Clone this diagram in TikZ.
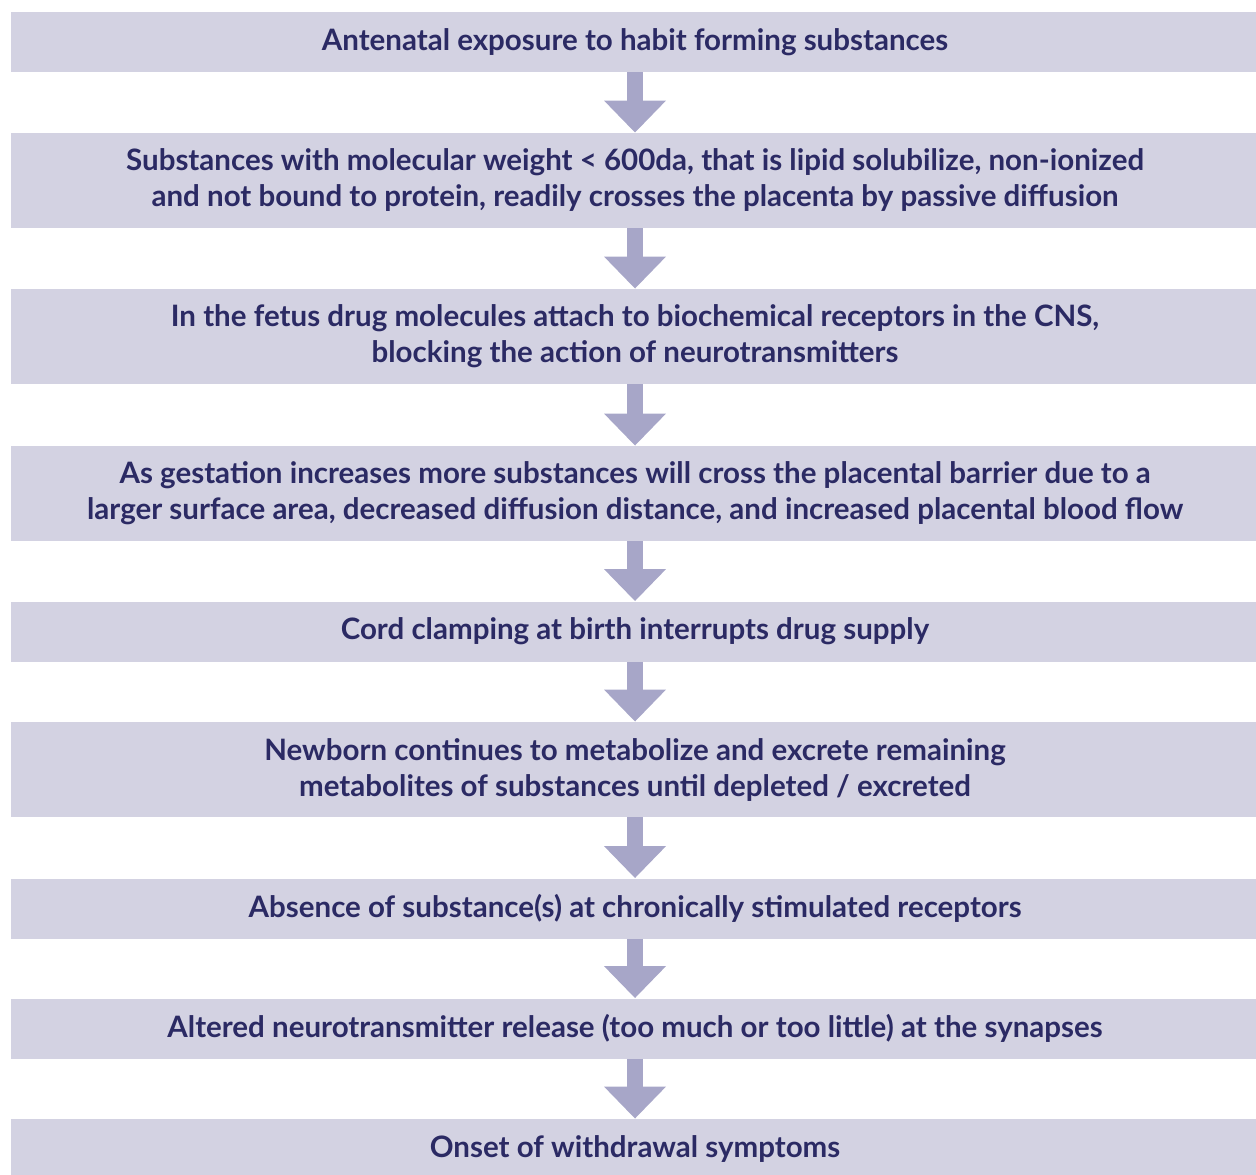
\documentclass[tikz,border=0pt]{standalone}
\usepackage{fontspec}
\setmainfont{Lato}
\usetikzlibrary{arrows.meta}
\definecolor{boxfill}{HTML}{D3D2E2}
\definecolor{arrowfill}{HTML}{A7A6C8}
\definecolor{textnavy}{HTML}{2B2A64}
\begin{document}
\begin{tikzpicture}[x=1pt, y=-1pt,
    stepbox/.style={fill=boxfill, text=textnavy, inner sep=0pt, minimum width=624pt,
      align=center, font=\bfseries\fontsize{14.75}{18}\selectfont},
    onerow/.style={stepbox, minimum height=30pt},
    tworow/.style={stepbox, minimum height=47.5pt},
    flow/.style={arrowfill, line width=8pt, -{Triangle[width=30pt, length=16pt]}}]
      \useasboundingbox (0, 0) rectangle (628, 587);
      \clip (0, 0) rectangle (628, 587);

      \node[onerow] (1) at (317.5, 21) {Antenatal exposure to habit forming substances};
      \node[tworow] (2) at (317.5, 90.25) {Substances with molecular weight < 600da, that is lipid solubilize, non-ionized\\and not bound to protein, readily crosses the placenta by passive diffusion};
      \node[tworow] (3) at (317.5, 168.25) {In the fetus drug molecules attach to biochemical receptors in the CNS,\\blocking the action of neurotransmitters};
      \node[tworow] (4) at (317.5, 246.75) {As gestation increases more substances will cross the placental barrier due to a\\larger surface area, decreased diffusion distance, and increased placental blood flow};
      \node[onerow] (5) at (317.5, 315.75) {Cord clamping at birth interrupts drug supply};
      \node[tworow] (6) at (317.5, 384.75) {Newborn continues to metabolize and excrete remaining\\metabolites of substances until depleted / excreted};
      \node[onerow] (7) at (317.5, 454.25) {Absence of substance(s) at chronically stimulated receptors};
      \node[onerow] (8) at (317.5, 514.25) {Altered neurotransmitter release (too much or too little) at the synapses};
      \node[onerow] (9) at (317.5, 574.5) {Onset of withdrawal symptoms};

      \draw[flow] (1) -- (2);
      \draw[flow] (2) -- (3);
      \draw[flow] (3) -- (4);
      \draw[flow] (4) -- (5);
      \draw[flow] (5) -- (6);
      \draw[flow] (6) -- (7);
      \draw[flow] (7) -- (8);
      \draw[flow] (8) -- (9);
    \end{tikzpicture}
\end{document}
